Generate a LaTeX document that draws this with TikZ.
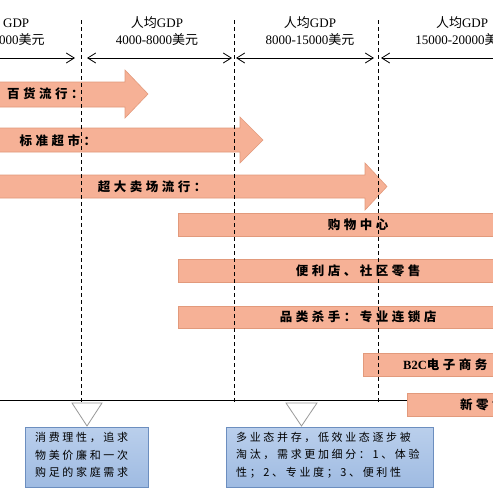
\documentclass[tikz,border=0pt]{standalone}
\usepackage{fontspec}
\setmainfont{Liberation Serif}
\newfontfamily\cjk{Noto Sans CJK SC}
\newfontfamily\cjkls[LetterSpace=28]{Noto Sans CJK SC}
\newfontfamily\cjkbx[LetterSpace=24]{Noto Sans CJK SC}
\usetikzlibrary{arrows.meta}
\definecolor{salmon}{HTML}{F6B196}
\definecolor{salmonedge}{HTML}{E29A7C}
\definecolor{boxtop}{HTML}{BACFEC}
\definecolor{boxbot}{HTML}{9FBBE2}
\definecolor{boxedge}{HTML}{6C8EBF}
\tikzset{
  gdp/.style={font=\fontsize{13}{15}\selectfont, inner sep=0pt},
  dimarrow/.style={line width=0.8pt, {Straight Barb[length=8pt,width=10pt]}-{Straight Barb[length=8pt,width=10pt]}},
  dimright/.style={line width=0.8pt, -{Straight Barb[length=8pt,width=10pt]}},
  dimleft/.style={line width=0.8pt, {Straight Barb[length=8pt,width=10pt]}-},
  stagearrow/.style={fill=salmon, draw=salmonedge, line width=0.6pt},
  barlabel/.style={font=\cjkls\bfseries\fontsize{12.5}{14}\selectfont, inner sep=0pt},
  sep/.style={dash pattern=on 4pt off 3pt, line width=0.8pt},
  pointer/.style={fill=white, draw=black!40, line width=0.8pt},
  notebox/.style={top color=boxtop, bottom color=boxbot, draw=boxedge, line width=0.6pt},
  notetext/.style={font=\cjkbx\fontsize{11}{17.5}\selectfont, inner sep=0pt, align=left, anchor=north west}
}
\begin{document}
\begin{tikzpicture}[x=1pt,y=-1pt]
\useasboundingbox (0,0) rectangle (493,496);
\fill[white] (0,0) rectangle (493,496);

% GDP headings
\node[gdp, anchor=west] (g1a) at (3,23) {GDP};
\node[gdp, anchor=west] (g1b) at (-1,40) {000{\cjk 美元}};
\node[gdp] (g2a) at (157,23) {{\cjk 人均}GDP};
\node[gdp] (g2b) at (157,40) {4000-8000{\cjk 美元}};
\node[gdp] (g3a) at (310,23) {{\cjk 人均}GDP};
\node[gdp] (g3b) at (310,40) {8000-15000{\cjk 美元}};
\node[gdp] (g4a) at (462,23) {{\cjk 人均}GDP};
\node[gdp] (g4b) at (463,40) {15000-20000{\cjk 美元}};

% span arrows
\coordinate (a1s) at (-5,58); \coordinate (a1e) at (75,58);
\coordinate (a2s) at (87,58); \coordinate (a2e) at (232,58);
\coordinate (a3s) at (236,58); \coordinate (a3e) at (374,58);
\coordinate (a4s) at (381,58); \coordinate (a4e) at (500,58);
\draw[dimright] (a1s) -- (a1e);
\draw[dimarrow] (a2s) -- (a2e);
\draw[dimarrow] (a3s) -- (a3e);
\draw[dimleft] (a4s) -- (a4e);

% stage arrows
\draw[stagearrow] (-5,82) -- (125,82) -- (125,70) -- (148,94) -- (125,118) -- (125,107) -- (-5,107) -- cycle;
\draw[stagearrow] (-5,128) -- (240,128) -- (240,117) -- (263,140) -- (240,163) -- (240,152) -- (-5,152) -- cycle;
\draw[stagearrow] (-5,175) -- (365,175) -- (365,163) -- (387,186.5) -- (365,210) -- (365,198) -- (-5,198) -- cycle;

% bars
\draw[stagearrow] (178,213) rectangle (500,236);
\draw[stagearrow] (178,259) rectangle (500,282);
\draw[stagearrow] (178,306) rectangle (500,328);
\draw[stagearrow] (363,353) rectangle (500,376);
\draw[stagearrow] (407,393) rectangle (500,416);

% timeline axis
\coordinate (ax0) at (-5,400);
\coordinate (ax1) at (407,400);
\draw[line width=0.8pt] (ax0) -- (ax1);

% separators
\foreach \x/\n in {81/s1,234/s2,378/s3}{
  \coordinate (\n t) at (\x,20);
  \coordinate (\n b) at (\x,402);
  \draw[sep] (\n t) -- (\n b);
}

% labels on arrows and bars
\node[barlabel, anchor=west] (l1) at (7,94) {百货流行：};
\node[barlabel] (l2) at (58,140.5) {标准超市：};
\node[barlabel] (l3) at (152,187) {超大卖场流行：};
\node[barlabel] (l4) at (358,225) {购物中心};
\node[barlabel] (l5) at (358,270.5) {便利店、社区零售};
\node[barlabel] (l6) at (358,317) {品类杀手：专业连锁店};
\node[barlabel, anchor=west] (l7) at (403,364.5) {{\fontspec{Liberation Serif}\bfseries B2C}电子商务};
\node[barlabel, anchor=west] (l8) at (460,404.5) {新零售};

% pointers
\draw[pointer] (72,403) -- (102,403) -- (87,426) -- cycle;
\draw[pointer] (286,403) -- (317,403) -- (301.5,426) -- cycle;

% note boxes
\draw[notebox] (25,427) rectangle (148,487);
\draw[notebox] (226,427) rectangle (433,487);
\node[notetext] (n1) at (35,432) {消费理性，追求\\物美价廉和一次\\购足的家庭需求};
\node[notetext] (n2) at (236,432) {多业态并存，低效业态逐步被\\淘汰，需求更加细分：1、体验\\性；2、专业度；3、便利性};
\end{tikzpicture}
\end{document}
